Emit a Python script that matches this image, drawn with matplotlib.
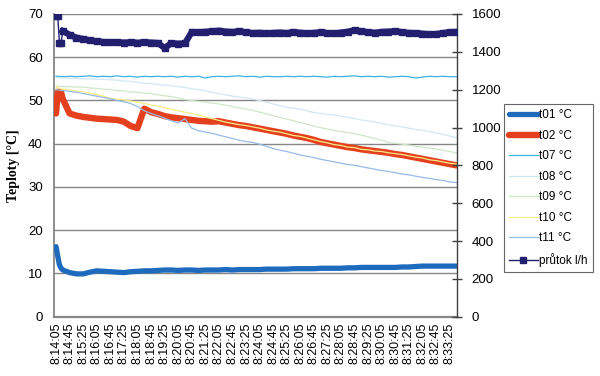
import matplotlib
matplotlib.use("Agg")
import matplotlib.pyplot as plt

# time in seconds from 8:14:05
times = [0, 5, 10, 15] + list(range(20, 1181, 20))

t01 = [16.2, 14.0, 12.0, 11.2, 10.8, 10.2, 9.9, 9.9, 10.3, 10.6, 10.5, 10.4, 10.3, 10.2, 10.4, 10.5,
       10.6, 10.6, 10.7, 10.8, 10.8, 10.7, 10.8, 10.8, 10.7, 10.8, 10.8, 10.8, 10.9, 10.8, 10.9, 10.9,
       10.9, 10.9, 11.0, 11.0, 11.0, 11.0, 11.1, 11.1, 11.1, 11.1, 11.2, 11.2, 11.2, 11.2, 11.3, 11.3,
       11.4, 11.4, 11.4, 11.4, 11.4, 11.4, 11.5, 11.5, 11.6, 11.7, 11.7, 11.7, 11.7, 11.7, 11.7]
t02 = [47.0, 52.0, 52.0, 51.8, 50.3, 47.0, 46.5, 46.2, 46.0, 45.8, 45.7, 45.6, 45.5, 45.1, 44.1, 43.6,
       48.1, 47.3, 46.9, 46.4, 46.1, 45.9, 45.7, 45.5, 45.3, 45.2, 45.1, 45.2, 44.9, 44.6, 44.3, 44.1,
       43.8, 43.5, 43.2, 42.9, 42.6, 42.3, 41.9, 41.6, 41.3, 40.9, 40.4, 40.1, 39.8, 39.5, 39.2, 39.0,
       38.7, 38.5, 38.3, 38.1, 37.9, 37.6, 37.4, 37.1, 36.8, 36.5, 36.2, 35.9, 35.6, 35.3, 35.0]
t07 = [55.6, 55.6, 55.5, 55.6, 55.5, 55.6, 55.5, 55.6, 55.7, 55.5, 55.6, 55.5, 55.7, 55.5, 55.6, 55.4,
       55.6, 55.5, 55.6, 55.5, 55.6, 55.4, 55.6, 55.5, 55.6, 55.2, 55.5, 55.6, 55.5, 55.6, 55.7, 55.5,
       55.6, 55.4, 55.6, 55.5, 55.5, 55.6, 55.5, 55.6, 55.5, 55.6, 55.5, 55.4, 55.6, 55.5, 55.6, 55.7,
       55.5, 55.6, 55.5, 55.6, 55.4, 55.5, 55.6, 55.5, 55.2, 55.4, 55.6, 55.5, 55.6, 55.5, 55.5]
t08 = [55.3, 55.3, 55.2, 55.2, 55.2, 55.1, 55.1, 55.0, 55.0, 54.9, 54.9, 54.8, 54.7, 54.5, 54.4, 54.2,
       54.0, 53.9, 53.7, 53.6, 53.4, 53.2, 53.0, 52.7, 52.5, 52.2, 51.9, 51.6, 51.3, 51.0, 50.8, 50.6,
       50.3, 50.0, 49.6, 49.2, 48.8, 48.4, 48.2, 48.0, 47.6, 47.2, 47.0, 46.8, 46.6, 46.4, 46.1, 45.8,
       45.5, 45.3, 45.0, 44.7, 44.4, 44.1, 43.9, 43.6, 43.3, 43.1, 42.8, 42.5, 42.2, 41.8, 41.4]
t09 = [53.3, 53.3, 53.3, 53.3, 53.2, 53.2, 53.1, 53.1, 52.9, 52.8, 52.6, 52.5, 52.3, 52.2, 52.0, 51.9,
       51.7, 51.6, 51.3, 51.1, 50.9, 50.6, 50.2, 50.0, 49.8, 49.6, 49.4, 49.2, 48.9, 48.6, 48.3, 48.0,
       47.7, 47.3, 46.9, 46.5, 46.1, 45.7, 45.3, 44.9, 44.5, 44.1, 43.7, 43.4, 43.1, 42.8, 42.6, 42.3,
       42.0, 41.6, 41.2, 40.8, 40.3, 40.1, 39.9, 39.7, 39.4, 39.2, 39.0, 38.8, 38.5, 38.2, 37.9]
t10 = [52.8, 53.3, 52.8, 52.7, 52.6, 52.4, 52.2, 52.0, 51.7, 51.4, 51.0, 50.5, 50.3, 50.1, 49.9, 49.6,
       49.3, 49.0, 48.7, 48.3, 48.0, 47.6, 47.3, 47.0, 46.6, 46.2, 45.8, 45.4, 45.0, 44.7, 44.4, 44.2,
       43.9, 43.6, 43.2, 42.9, 42.7, 42.3, 41.9, 41.7, 41.3, 40.9, 40.5, 40.2, 39.8, 39.6, 39.2, 39.1,
       38.7, 38.6, 38.3, 38.2, 37.9, 37.7, 37.5, 37.2, 36.9, 36.7, 36.3, 36.1, 35.8, 35.5, 35.3]
t11 = [52.4, 52.5, 52.4, 52.3, 52.3, 52.1, 51.9, 51.6, 51.3, 51.0, 50.7, 50.4, 50.0, 49.7, 49.3, 48.6,
       47.6, 47.0, 46.5, 45.9, 45.3, 44.8, 45.8, 43.6, 43.0, 42.7, 42.4, 42.0, 41.6, 41.2, 40.8, 40.5,
       40.3, 39.9, 39.4, 38.9, 38.5, 38.2, 37.8, 37.4, 37.1, 36.8, 36.4, 36.1, 35.8, 35.5, 35.2, 35.0,
       34.7, 34.4, 34.1, 33.8, 33.6, 33.3, 33.0, 32.8, 32.5, 32.2, 32.0, 31.7, 31.5, 31.2, 31.0]
prutok = [1590, 1590, 1449, 1449, 1510, 1490, 1475, 1468, 1460, 1455, 1452, 1450, 1451, 1449, 1450, 1448,
          1451, 1449, 1447, 1420, 1446, 1443, 1445, 1505, 1503, 1506, 1508, 1512, 1507, 1505, 1508, 1503,
          1499, 1501, 1497, 1500, 1502, 1499, 1504, 1501, 1498, 1500, 1503, 1499, 1497, 1502, 1506, 1515,
          1508, 1504, 1501, 1505, 1507, 1509, 1504, 1500, 1499, 1496, 1493, 1494, 1499, 1504, 1505]

tick_labels = ["8:14:05", "8:14:45", "8:15:25", "8:16:05", "8:16:45", "8:17:25", "8:18:05", "8:18:45",
               "8:19:25", "8:20:05", "8:20:45", "8:21:25", "8:22:05", "8:22:45", "8:23:25", "8:24:05",
               "8:24:45", "8:25:25", "8:26:05", "8:26:45", "8:27:25", "8:28:05", "8:28:45", "8:29:25",
               "8:30:05", "8:30:45", "8:31:25", "8:32:05", "8:32:45", "8:33:25"]
tick_step = 40

plt.rcParams['font.family'] = ['Liberation Sans', 'DejaVu Sans']

fig = plt.figure(figsize=(6.0, 3.76), dpi=100)
ax = fig.add_axes([54/600, 1-316.7/376, (457-54)/600, (316.7-14)/376])

grid_c = '#868686'
ax.plot(times, t01, color='#1e6bbd', lw=3.8, label='t01 °C', solid_capstyle='round', zorder=3)
ax.plot(times, t02, color='#e5401e', lw=4.6, label='t02 °C', solid_capstyle='round', zorder=3)
ax.plot(times, t07, color='#3cb2e6', lw=0.9, label='t07 °C', zorder=3)
ax.plot(times, t08, color='#cfe8f1', lw=0.9, label='t08 °C', zorder=3)
ax.plot(times, t09, color='#cfe7c6', lw=0.9, label='t09 °C', zorder=3)
ax.plot(times, t10, color='#f5ec86', lw=0.9, label='t10 °C', zorder=3)
ax.plot(times, t11, color='#96bbe8', lw=0.9, label='t11 °C', zorder=3)

ax.set_xlim(-6, 1182)
ax.set_ylim(0, 70)
ax.set_yticks(range(0, 71, 10))
ax.yaxis.grid(True, color=grid_c, lw=1.0)
ax.set_axisbelow(True)
ax.set_xticks([tick_step * i for i in range(len(tick_labels))])
ax.set_xticklabels(tick_labels, rotation=90, fontsize=9)
ax.tick_params(axis='x', length=0, pad=4)
ax.tick_params(axis='y', length=0, pad=8, labelsize=9.5)
ax.spines['top'].set_visible(False)
ax.spines['right'].set_visible(False)
ax.spines['left'].set_color(grid_c)
ax.spines['left'].set_linewidth(1.3)
ax.spines['bottom'].set_color(grid_c)
ax.spines['bottom'].set_linewidth(1.6)
ax.set_ylabel('Teploty [°C]', family=['Liberation Serif'], fontweight='bold', fontsize=10, labelpad=6)

ax2 = ax.twinx()
ax2.plot(times[4:], prutok[4:], color='#231f6f', lw=4.5, zorder=3)
ax2.plot(times, prutok, color='#231f6f', lw=1.0, marker='s', markersize=4.5,
         label='průtok l/h', zorder=4)
ax2.set_ylim(0, 1600)
ax2.set_yticks(range(0, 1601, 200))
ax2.tick_params(axis='y', direction='inout', length=7, width=1, color='#404040', pad=7, labelsize=9.5)
for s in ['top', 'left', 'bottom']:
    ax2.spines[s].set_visible(False)
ax2.spines['right'].set_color('#404040')
ax2.spines['right'].set_linewidth(1.0)

h1, l1 = ax.get_legend_handles_labels()
h2, l2 = ax2.get_legend_handles_labels()
leg = fig.legend(h1 + h2, l1 + l2, loc='upper left', bbox_to_anchor=(504/600, 1-104/376),
                 fontsize=8.5, frameon=True, fancybox=False, edgecolor='#404040',
                 handlelength=2.4, handletextpad=0.1, labelspacing=0.72, borderpad=0.45,
                 borderaxespad=0)
leg.get_frame().set_linewidth(0.8)

fig.savefig('out.png', dpi=100)
